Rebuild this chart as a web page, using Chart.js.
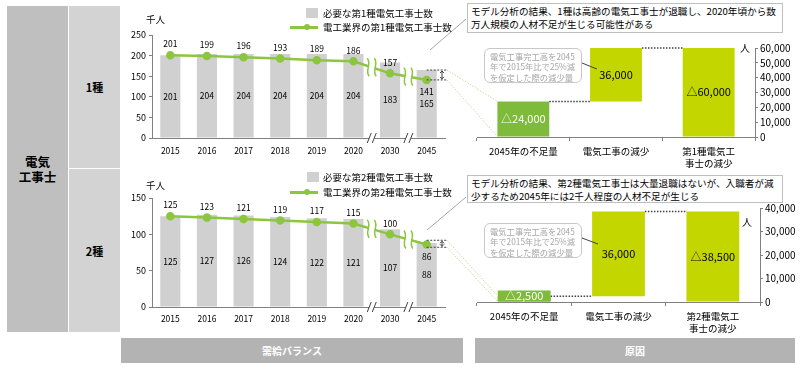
<!DOCTYPE html>
<html>
<head>
<meta charset="utf-8">
<script src="https://cdn.jsdelivr.net/npm/chart.js@4.4.0/dist/chart.umd.min.js"></script>
<style>
  body { margin: 0; width: 800px; height: 371px; position: relative; background: #fff; overflow: hidden;
         font-family: "Noto Sans CJK JP", sans-serif; }
  .abs { position: absolute; }
  .t { position: absolute; white-space: nowrap; }
  .cell { position: absolute; display: flex; align-items: center; justify-content: center; text-align: center; font-weight: bold; }
  canvas { position: absolute; }
  .note { position: absolute; border: 1px solid #bfbfbf; background: #fff; font-size: 9.6px; line-height: 12.5px; padding: 1px 0 0 3px; box-sizing: border-box; }
  .callout { position: absolute; border: 1.5px solid #c8c8c8; border-radius: 6px; background: #fff; color: #a6a6a6;
             font-size: 8.3px; line-height: 10.3px; padding: 2px 0 0 5px; box-sizing: border-box; white-space: nowrap; }
  .leg { position: absolute; font-size: 9.5px; line-height: 12px; white-space: nowrap; }
</style>
</head>
<body>

<!-- left headers -->
<div class="cell" style="left:7px;top:6px;width:61px;height:326px;background:#bfbfbf;font-size:12.5px;line-height:15px;">電気<br>工事士</div>
<div class="cell" style="left:69px;top:6px;width:51px;height:162px;background:#d3d3d3;font-size:11px;">1種</div>
<div class="cell" style="left:69px;top:169px;width:51px;height:163px;background:#d3d3d3;font-size:11px;">2種</div>

<!-- bottom headers -->
<div class="cell" style="left:121px;top:338px;width:342px;height:25px;background:#b3b3b3;color:#fff;font-size:10px;">需給バランス</div>
<div class="cell" style="left:475px;top:338px;width:320px;height:25px;background:#b3b3b3;color:#fff;font-size:10px;">原因</div>

<canvas id="needChart1" width="340" height="155" style="left:120px;top:8px;"></canvas>
<canvas id="needChart2" width="340" height="155" style="left:120px;top:175px;"></canvas>
<canvas id="causeChart1" width="330" height="135" style="left:470px;top:40px;"></canvas>
<canvas id="causeChart2" width="330" height="138" style="left:470px;top:200px;"></canvas>

<svg id="overlay" class="abs" width="800" height="371" style="left:0;top:0;pointer-events:none;"></svg>

<!-- units -->
<div class="t" style="left:146px;top:13px;font-size:9.5px;line-height:12px;">千人</div>
<div class="t" style="left:146px;top:179px;font-size:9.5px;line-height:12px;">千人</div>
<div class="t" style="left:740px;top:42px;font-size:10px;line-height:12px;">人</div>
<div class="t" style="left:742px;top:216px;font-size:10px;line-height:12px;">人</div>

<!-- legends -->
<div class="abs" style="left:306px;top:8px;width:12px;height:10px;background:#d0d0d0;"></div>
<div class="leg" style="left:323px;top:7px;">必要な第1種電気工事士数</div>
<div class="abs" style="left:290px;top:26px;width:28px;height:2.5px;background:#8cc63f;"></div>
<div class="abs" style="left:304px;top:24px;width:6px;height:6px;border-radius:50%;background:#8cc63f;"></div>
<div class="leg" style="left:323px;top:21px;">電工業界の第1種電気工事士数</div>

<div class="abs" style="left:307px;top:172px;width:12px;height:10px;background:#d0d0d0;"></div>
<div class="leg" style="left:323px;top:171px;">必要な第2種電気工事士数</div>
<div class="abs" style="left:290px;top:191px;width:28px;height:2.5px;background:#8cc63f;"></div>
<div class="abs" style="left:304px;top:189px;width:6px;height:6px;border-radius:50%;background:#8cc63f;"></div>
<div class="leg" style="left:323px;top:186px;">電工業界の第2種電気工事士数</div>

<!-- notes -->
<div class="note" style="left:467px;top:3px;width:316px;height:30px;">モデル分析の結果、1種は高齢の電気工事士が退職し、2020年頃から数<br>万人規模の人材不足が生じる可能性がある</div>
<div class="note" style="left:467px;top:175px;width:316px;height:28px;">モデル分析の結果、第2種電気工事士は大量退職はないが、入職者が減<br>少するため2045年には2千人程度の人材不足が生じる</div>

<div class="callout" style="left:484px;top:48px;width:98px;height:35px;">電気工事完工高を2045<br>年で2015年比で25%減<br>を仮定した際の減少量</div>
<div class="callout" style="left:484px;top:223px;width:98px;height:35px;">電気工事完工高を2045<br>年で2015年比で25%減<br>を仮定した際の減少量</div>

<script>
// data
const years = ['2015', '2016', '2017', '2018', '2019', '2020', '2030', '2045'];
const need1 = [201, 204, 204, 204, 204, 204, 183, 165];
const workers1 = [201, 199, 196, 193, 189, 186, 157, 141];
const need2 = [125, 127, 126, 124, 122, 121, 107, 88];
const workers2 = [125, 123, 121, 119, 117, 115, 100, 86];
const legend1 = ['必要な第1種電気工事士数', '電工業界の第1種電気工事士数'];
const legend2 = ['必要な第2種電気工事士数', '電工業界の第2種電気工事士数'];

const causes1 = ['2045年の不足量', '電気工事の減少', ['第1種電気工', '事士の減少']];
const causeValues1 = [24000, 36000, 60000];
const causes2 = ['2045年の不足量', '電気工事の減少', ['第2種電気工', '事士の減少']];
const causeValues2 = [2500, 36000, 38500];

// break marks after these category indexes (2020 -> 2030, 2030 -> 2045)
const breakAfter = [5, 6];

const green = '#8cc63f';
const darkGreen = '#7fbb3a';
const lime = '#c4d600';
const barGray = '#d0d0d0';
const axisColor = '#808080';
const fontFamily = '"Noto Sans CJK JP", sans-serif';

Chart.defaults.font.family = fontFamily;
Chart.defaults.color = '#000';
Chart.defaults.animation = false;

const fmt = v => v.toLocaleString('en-US');

// breaks, value labels and the 2045 bracket on the demand charts
const demandMarks = {
  id: 'demandMarks',
  afterDatasetsDraw(chart) {
    const { ctx, chartArea } = chart;
    const bars = chart.getDatasetMeta(0).data;
    const pts = chart.getDatasetMeta(1).data;
    const need = chart.data.datasets[0].data;
    const work = chart.data.datasets[1].data;
    const last = pts.length - 1;
    ctx.save();

    breakAfter.forEach(i => {
      const bx = (pts[i].x + pts[i + 1].x) / 2;
      const by = (pts[i].y + pts[i + 1].y) / 2;
      ctx.fillStyle = '#fff';
      ctx.fillRect(bx - 3, by - 6, 6, 12);
      ctx.strokeStyle = green;
      ctx.lineWidth = 1.5;
      [-3.5, 3.5].forEach(dx => {
        ctx.beginPath();
        ctx.moveTo(bx + dx - 1, by - 9);
        ctx.bezierCurveTo(bx + dx + 4, by - 3, bx + dx - 4, by + 3, bx + dx + 1, by + 9);
        ctx.stroke();
      });
      const ay = chartArea.bottom;
      ctx.fillStyle = '#fff';
      ctx.fillRect(bx - 2.5, ay - 2, 5, 4);
      ctx.strokeStyle = '#404040';
      ctx.lineWidth = 1;
      [-2.5, 2.5].forEach(dx => {
        ctx.beginPath();
        ctx.moveTo(bx + dx - 2, ay + 5);
        ctx.lineTo(bx + dx + 2, ay - 5);
        ctx.stroke();
      });
    });

    ctx.font = '8.5px ' + fontFamily;
    ctx.fillStyle = '#000';
    ctx.textAlign = 'center';
    ctx.textBaseline = 'middle';
    bars.forEach((b, i) => ctx.fillText(need[i], b.x, (b.y + b.base) / 2));
    pts.forEach((p, i) => ctx.fillText(work[i], p.x, i === last ? p.y + 12 : p.y - 11));

    // bracket between need and workers in 2045
    const bl = bars[last];
    let y1 = bl.y, y2 = pts[last].y;
    if (y2 - y1 < 7) {
      const m = (y1 + y2) / 2;
      y1 = m - 3.5;
      y2 = m + 3.5;
    }
    const xr = chartArea.right + 2;
    ctx.strokeStyle = '#404040';
    ctx.lineWidth = 1;
    ctx.setLineDash([2, 1.5]);
    ctx.beginPath();
    ctx.moveTo(bl.x, y1); ctx.lineTo(xr, y1);
    ctx.moveTo(bl.x, y2); ctx.lineTo(xr, y2);
    ctx.stroke();
    ctx.setLineDash([]);
    const ax = xr - 5;
    ctx.beginPath();
    ctx.moveTo(ax, y1 + 1); ctx.lineTo(ax, y2 - 1);
    ctx.moveTo(ax - 2, y1 + 3); ctx.lineTo(ax, y1 + 1); ctx.lineTo(ax + 2, y1 + 3);
    ctx.moveTo(ax - 2, y2 - 3); ctx.lineTo(ax, y2 - 1); ctx.lineTo(ax + 2, y2 - 3);
    ctx.stroke();
    ctx.restore();
  }
};

function demandChart(id, need, workers, yMax, legend, pad) {
  return new Chart(document.getElementById(id), {
    data: {
      labels: years,
      datasets: [
        { type: 'bar', label: legend[0], data: need, backgroundColor: barGray,
          barPercentage: 0.55, categoryPercentage: 1, order: 2 },
        { type: 'line', label: legend[1], data: workers, borderColor: green, backgroundColor: green,
          borderWidth: 2.5, pointRadius: 3, pointHoverRadius: 3, tension: 0, order: 1 }
      ]
    },
    options: {
      responsive: false,
      layout: { padding: { top: pad.top, right: 15, left: 0, bottom: 0 } },
      plugins: { legend: { display: false }, tooltip: { enabled: false } },
      scales: {
        x: {
          grid: { display: false, drawTicks: false },
          border: { display: true, color: axisColor },
          ticks: { font: { size: 8.5 }, padding: pad.xPad, maxRotation: 0 },
          afterFit: s => { s.height = pad.xh; }
        },
        y: {
          min: 0, max: yMax,
          ticks: { stepSize: 50, font: { size: 9 }, padding: 3, autoSkip: false },
          grid: { drawOnChartArea: false, tickLength: 3, color: axisColor },
          border: { display: true, color: axisColor },
          afterFit: s => { s.width = 32; }
        }
      }
    },
    plugins: [demandMarks]
  });
}

// connectors and labels for the waterfall charts
const causeMarks = {
  id: 'causeMarks',
  afterDatasetsDraw(chart) {
    const { ctx } = chart;
    const bars = chart.getDatasetMeta(0).data;
    const values = chart.data.datasets[0].values;
    ctx.save();
    ctx.strokeStyle = '#404040';
    ctx.lineWidth = 1.5;
    ctx.setLineDash([1.5, 1.5]);
    for (let i = 0; i < bars.length - 1; i++) {
      const a = bars[i], b = bars[i + 1];
      const top = Math.min(a.y, a.base);
      ctx.beginPath();
      ctx.moveTo(a.x + a.width / 2, top);
      ctx.lineTo(b.x - b.width / 2, top);
      ctx.stroke();
    }
    ctx.setLineDash([]);
    ctx.font = '11px ' + fontFamily;
    ctx.textAlign = 'center';
    ctx.textBaseline = 'middle';
    bars.forEach((b, i) => {
      const txt = (i === 1 ? '' : '△') + fmt(values[i]);
      let cy = (b.y + b.base) / 2;
      if (i === 0) {
        const h = 11;
        if (Math.abs(b.base - b.y) < h) {
          cy = Math.max(b.base, b.y) - h / 2;
          ctx.fillStyle = darkGreen;
          ctx.fillRect(b.x - b.width / 2, cy - h / 2, b.width, h);
        }
        ctx.fillStyle = '#fff';
      } else {
        ctx.fillStyle = '#000';
      }
      ctx.fillText(txt, b.x, cy);
    });
    ctx.restore();
  }
};

function causeChart(id, labels, values, yMax, step, pad) {
  const floating = [[0, values[0]], [values[0], values[0] + values[1]], [0, values[2]]];
  return new Chart(document.getElementById(id), {
    type: 'bar',
    data: {
      labels: labels,
      datasets: [{ data: floating, values: values, backgroundColor: [darkGreen, lime, lime],
                   barPercentage: 0.56, categoryPercentage: 1 }]
    },
    options: {
      responsive: false,
      layout: { padding: { top: pad.top, left: 7, right: 0, bottom: 0 } },
      plugins: { legend: { display: false }, tooltip: { enabled: false } },
      scales: {
        x: {
          grid: { display: true, drawOnChartArea: false, offset: true, tickLength: 4, color: axisColor },
          border: { display: true, color: axisColor },
          ticks: { font: { size: 9.5 }, padding: 5, maxRotation: 0 },
          afterFit: s => { s.height = pad.xh; }
        },
        y: {
          position: 'right',
          min: 0, max: yMax,
          ticks: { stepSize: step, font: { size: 10 }, padding: 2, autoSkip: false, callback: v => fmt(v) },
          grid: { drawOnChartArea: false, tickLength: 3, color: axisColor },
          border: { display: true, color: axisColor },
          afterFit: s => { s.width = pad.yw; }
        }
      }
    },
    plugins: [causeMarks]
  });
}

const chartA = demandChart('needChart1', need1, workers1, 250, legend1, { top: 27, xh: 25, xPad: 8 });
const chartB = demandChart('needChart2', need2, workers2, 150, legend2, { top: 23, xh: 23, xPad: 7 });
const chartC = causeChart('causeChart1', causes1, causeValues1, 60000, 10000, { top: 8, xh: 38, yw: 45 });
const chartD = causeChart('causeChart2', causes2, causeValues2, 40000, 10000, { top: 8, xh: 36, yw: 40 });

// overlay lines between panels
const svg = document.getElementById('overlay');
function svgLine(x1, y1, x2, y2, color, dash, w) {
  const l = document.createElementNS('http://www.w3.org/2000/svg', 'line');
  l.setAttribute('x1', x1); l.setAttribute('y1', y1);
  l.setAttribute('x2', x2); l.setAttribute('y2', y2);
  l.setAttribute('stroke', color);
  l.setAttribute('stroke-width', w || 1);
  if (dash) l.setAttribute('stroke-dasharray', dash);
  svg.appendChild(l);
}
function offsetOf(chart) {
  const c = chart.canvas;
  return { x: c.offsetLeft, y: c.offsetTop };
}
function zoomLines(left, right) {
  const o1 = offsetOf(left), o2 = offsetOf(right);
  const bars = left.getDatasetMeta(0).data;
  const pts = left.getDatasetMeta(1).data;
  const last = pts.length - 1;
  let y1 = bars[last].y, y2 = pts[last].y;
  if (y2 - y1 < 7) { const m = (y1 + y2) / 2; y1 = m - 3.5; y2 = m + 3.5; }
  const xr = left.chartArea.right + 2 + o1.x;
  const b = right.getDatasetMeta(0).data[0];
  const bx = b.x - b.width / 2 + o2.x;
  svgLine(xr, y1 + o1.y, bx, Math.min(b.y, b.base) + o2.y, '#d8d1a6', '1.5 1.5');
  svgLine(xr, y2 + o1.y, bx, Math.max(b.y, b.base) + o2.y, '#d8d1a6', '1.5 1.5');
}
zoomLines(chartA, chartC);
zoomLines(chartB, chartD);

// pointer lines to the notes and callouts
svgLine(430, 50, 466, 19, '#a6a6a6');
svgLine(427, 230, 466, 197, '#a6a6a6');
svgLine(582, 63, 597, 69, '#404040');
svgLine(582, 238, 598, 244, '#404040');
</script>
</body>
</html>
